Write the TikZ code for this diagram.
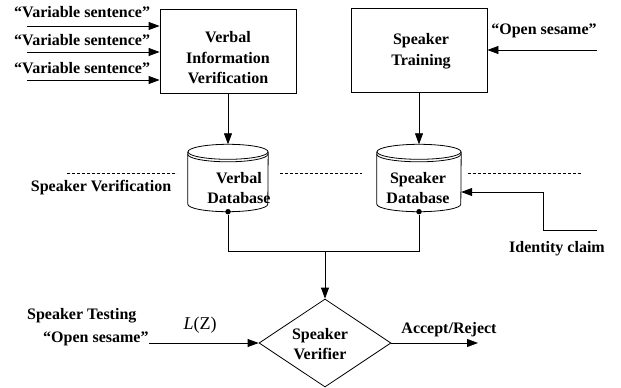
\documentclass[tikz,border=0pt]{standalone}
\usepackage{fontspec}
\setmainfont{Liberation Serif}
\usetikzlibrary{shapes.geometric,arrows.meta,calc}
\begin{document}
\begin{tikzpicture}[x=1pt,y=-1pt,
  txt/.style={font=\fontsize{16}{20.5}\selectfont\bfseries, inner sep=0pt, align=center},
  mathlbl/.style={font=\fontsize{18}{20}\selectfont, inner sep=0pt},
  blockbox/.style={draw, line width=0.8pt, minimum width=136pt, minimum height=84pt, inner sep=0pt},
  dbbody/.style={minimum width=#1, minimum height=52pt, inner sep=0pt},
  flow/.style={line width=0.8pt, -{Triangle[length=11pt,width=8pt]}},
  wire/.style={line width=0.8pt},
  sep/.style={line width=0.6pt, dash pattern=on 3pt off 2pt},
  jdot/.style={circle, fill, inner sep=0pt, minimum size=5.5pt},
  decision/.style={diamond, draw, line width=0.8pt, minimum width=132pt, minimum height=88pt, inner sep=0pt, aspect=1.5}
]
\useasboundingbox (0,0) rectangle (621,388);

% processing blocks
\node[blockbox] (viv) at (228,51) {};
\node[txt] (vivt) at (228,58) {Verbal\\Information\\Verification};
\node[blockbox] (st) at (419,50) {};
\node[txt] (stt) at (421,51) {Speaker\\Training};

% databases (cylinders drawn around invisible body nodes)
\node[dbbody=80pt] (vdb) at (228,178) {};
\draw[wire] (vdb.north west) -- (vdb.south west)
  arc[start angle=180, end angle=360, x radius=40pt, y radius=7.5pt] -- (vdb.north east);
\draw[wire] (vdb.north) ellipse[x radius=40pt, y radius=7.5pt];
\draw[wire] ([yshift=-2.5pt]vdb.north west)
  arc[start angle=180, end angle=360, x radius=40pt, y radius=7.5pt];
\node[txt] (vdbt) at (239,188) {Verbal\\Database};

\node[dbbody=84pt] (sdb) at (419,178) {};
\draw[wire] (sdb.north west) -- (sdb.south west)
  arc[start angle=180, end angle=360, x radius=42pt, y radius=7.5pt] -- (sdb.north east);
\draw[wire] (sdb.north) ellipse[x radius=42pt, y radius=7.5pt];
\draw[wire] ([yshift=-2.5pt]sdb.north west)
  arc[start angle=180, end angle=360, x radius=42pt, y radius=7.5pt];
\node[txt] (sdbt) at (418,188) {Speaker\\Database};

\coordinate (vdbtop) at ([yshift=7.5pt]vdb.north);
\coordinate (sdbtop) at ([yshift=7.5pt]sdb.north);
\node[jdot] (vdot) at ([yshift=-7.5pt]vdb.south) {};
\node[jdot] (sdot) at ([yshift=-7.5pt]sdb.south) {};

% decision
\node[decision] (sv) at (325,343) {};
\node[txt] (svt) at (320,344) {Speaker\\Verifier};

% training-side inputs
\foreach \y/\ly [count=\i] in {26/12, 52/40, 80/68} {
  \coordinate (in\i) at (27,\y);
  \node[txt, anchor=west] (vs\i) at (14,\ly) {“Variable sentence”};
  \draw[flow] (in\i) -- (in\i -| viv.west);
}
\coordinate (os) at (597,50);
\node[txt] (ost) at (544,31) {“Open sesame”};
\draw[flow] (os) -- (os -| st.east);

\draw[flow] (viv.south) -- (vdbtop);
\draw[flow] (st.south) -- (sdbtop);

% phase separators
\draw[sep] (67,173) -- (177,173);
\draw[sep] (280,173) -- (362,173);
\draw[sep] (468,173) -- (582,173);
\node[txt] (spv) at (101,188) {Speaker Verification};

% identity claim
\coordinate (idc) at (597,230);
\draw[flow] (idc) -- (543,230) |- (sdb.east |- 0,192);
\node[txt] (idt) at (557,249) {Identity claim};

% database outputs to the verifier
\coordinate (bus) at (325,251);
\draw[wire] (vdot) -- (vdot |- bus) -- (sdot |- bus) -- (sdot);
\draw[flow] (bus) -- (sv.north);

% testing input and decision output
\node[txt, anchor=west] (stest) at (27,316) {Speaker Testing};
\node[txt, anchor=west] (ostest) at (43,339) {“Open sesame”};
\coordinate (tin) at (149,343);
\draw[flow] (tin) -- (sv.west);
\node[mathlbl] (lz) at (200,325) {\textit{L}(Z)};
\coordinate (acc) at (478,343);
\draw[flow] (sv.east) -- (acc);
\node[txt] (acct) at (449,330) {Accept/Reject};
\end{tikzpicture}
\end{document}
